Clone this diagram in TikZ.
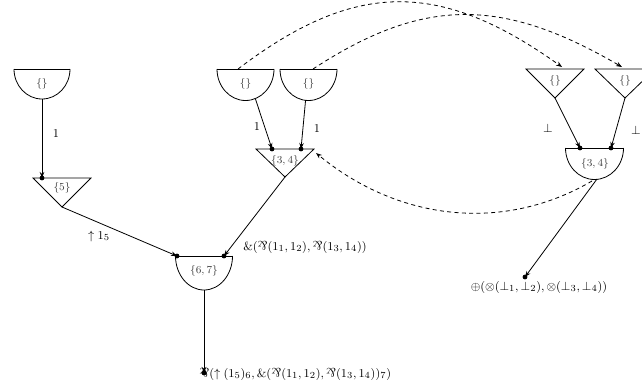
\documentclass[tikz,border=0pt]{standalone}
\usepackage{graphicx}
\usetikzlibrary{arrows.meta,calc}
\newcommand\myparr{\mathord{\rotatebox[origin=c]{180}{\&}}}
\tikzset{
  shapeline/.style={line width=0.6pt},
  conn/.style={line width=0.6pt,-{Stealth[length=4.5pt,width=3.4pt]}},
  dasharr/.style={line width=0.6pt,dash pattern=on 3pt off 2.5pt,-{Stealth[length=4.5pt,width=3.4pt]}},
  lbl/.style={inner sep=0pt,font=\fontsize{9.4}{11}\selectfont},
  inner/.style={inner sep=0pt,font=\footnotesize,text=black!75},
}
\newcommand\semi[3]{% center name, x radius, y radius
  \draw[shapeline] ($(#1)+(-#2,0)$) -- ($(#1)+(#2,0)$);
  \draw[shapeline] ($(#1)+(-#2,0)$) arc[start angle=180,end angle=0,x radius=#2,y radius=#3];
}
\begin{document}
\begin{tikzpicture}[x=0.75pt,y=-0.75pt]
\useasboundingbox (0,0) rectangle (642,387);
% centres of shapes
\coordinate (tl) at (42,69);
\coordinate (m1) at (245.5,69);
\coordinate (m2) at (308.5,69);
\coordinate (sx) at (204,256);
\coordinate (br) at (594.5,148);
% semicircles
\semi{tl}{28}{30}
\semi{m1}{28.5}{31.5}
\semi{m2}{28.5}{31.5}
\semi{sx}{28.5}{34}
\semi{br}{29}{31.5}
% triangles
\draw[shapeline] (526,69) -- (584,69) -- (555,98) -- cycle;
\draw[shapeline] (595,69) -- (655,69) -- (625,98) -- cycle;
\draw[shapeline] (33,178) -- (91,178) -- (62,207) -- cycle;
\draw[shapeline] (256,149) -- (314,149) -- (285,177) -- cycle;
\coordinate (t1a) at (555,98);
\coordinate (t2a) at (625,98);
\coordinate (t5a) at (62,207);
\coordinate (t34a) at (285,177);
% inner texts
\node[inner] (itl) at (42,84) {$\{\}$};
\node[inner] (im1) at (245.5,84) {$\{\}$};
\node[inner] (im2) at (308.5,84) {$\{\}$};
\node[inner] (it1) at (555,81) {$\{\}$};
\node[inner] (it2) at (625,81) {$\{\}$};
\node[inner] (i5) at (62,188) {$\{5\}$};
\node[inner] (i34) at (285,161) {$\{3,4\}$};
\node[inner] (i67) at (204,271) {$\{6,7\}$};
\node[inner] (ibr) at (595,164) {$\{3,4\}$};
% dots
\coordinate (d5) at (42,178);
\coordinate (d1) at (272,149);
\coordinate (d2) at (301,149);
\coordinate (d3) at (580,148);
\coordinate (d4) at (611,148);
\coordinate (d6) at (177,256);
\coordinate (d7) at (224,256);
\coordinate (dfin) at (204,373);
\coordinate (dbr) at (525,277);
% start points
\coordinate (tlb) at (42,99);
\coordinate (m1b) at ($(m1)!23.5pt!(d1)$);
\coordinate (m2b) at ($(m2)!23.5pt!(d2)$);
\coordinate (sxb) at (204,290);
\coordinate (brb) at (597,179);
% connectors
\draw[conn] (tlb) -- (d5);
\draw[conn] (m1b) -- (d1);
\draw[conn] (m2b) -- (d2);
\draw[conn] (t1a) -- (d3);
\draw[conn] (t2a) -- (d4);
\draw[conn] (t5a) -- (d6);
\draw[conn] (t34a) -- (d7);
\draw[conn] (sxb) -- (dfin);
\draw[conn] (brb) -- (dbr);
\foreach \p in {d5,d1,d2,d3,d4,d6,d7,dfin,dbr} \fill (\p) circle[radius=2.4];
% dashed arcs
\coordinate (a1s) at (238,69);
\coordinate (a1e) at (562,67);
\coordinate (a2s) at (313,69);
\coordinate (a2e) at (622,67);
\coordinate (a3s) at (592,181);
\coordinate (a3e) at (316,153);
\draw[dasharr] (a1s) .. controls (355,-20) and (440,-20) .. (a1e);
\draw[dasharr] (a2s) .. controls (423,-3) and (502,-3) .. (a2e);
\draw[dasharr] (a3s) .. controls (505,232) and (400,222) .. (a3e);
% labels
\node[lbl] (l1) at (56,134) {$1$};
\node[lbl] (l2) at (99,236) {$\uparrow 1_5$};
\node[lbl] (l3) at (257,127) {$1$};
\node[lbl] (l4) at (317,129) {$1$};
\node[lbl] (l5) at (548,128) {$\bot$};
\node[lbl] (l6) at (636,130) {$\bot$};
\node[lbl,anchor=west] (l7) at (243,247) {$\&(\myparr(1_1,1_2),\myparr(1_3,1_4))$};
\node[lbl,anchor=west] (l8) at (199,374) {$\myparr(\uparrow(1_5)_6,\&(\myparr(1_1,1_2),\myparr(1_3,1_4))_7)$};
\node[lbl] (l9) at (539,287) {$\oplus(\otimes(\bot_1,\bot_2),\otimes(\bot_3,\bot_4))$};
\end{tikzpicture}
\end{document}
